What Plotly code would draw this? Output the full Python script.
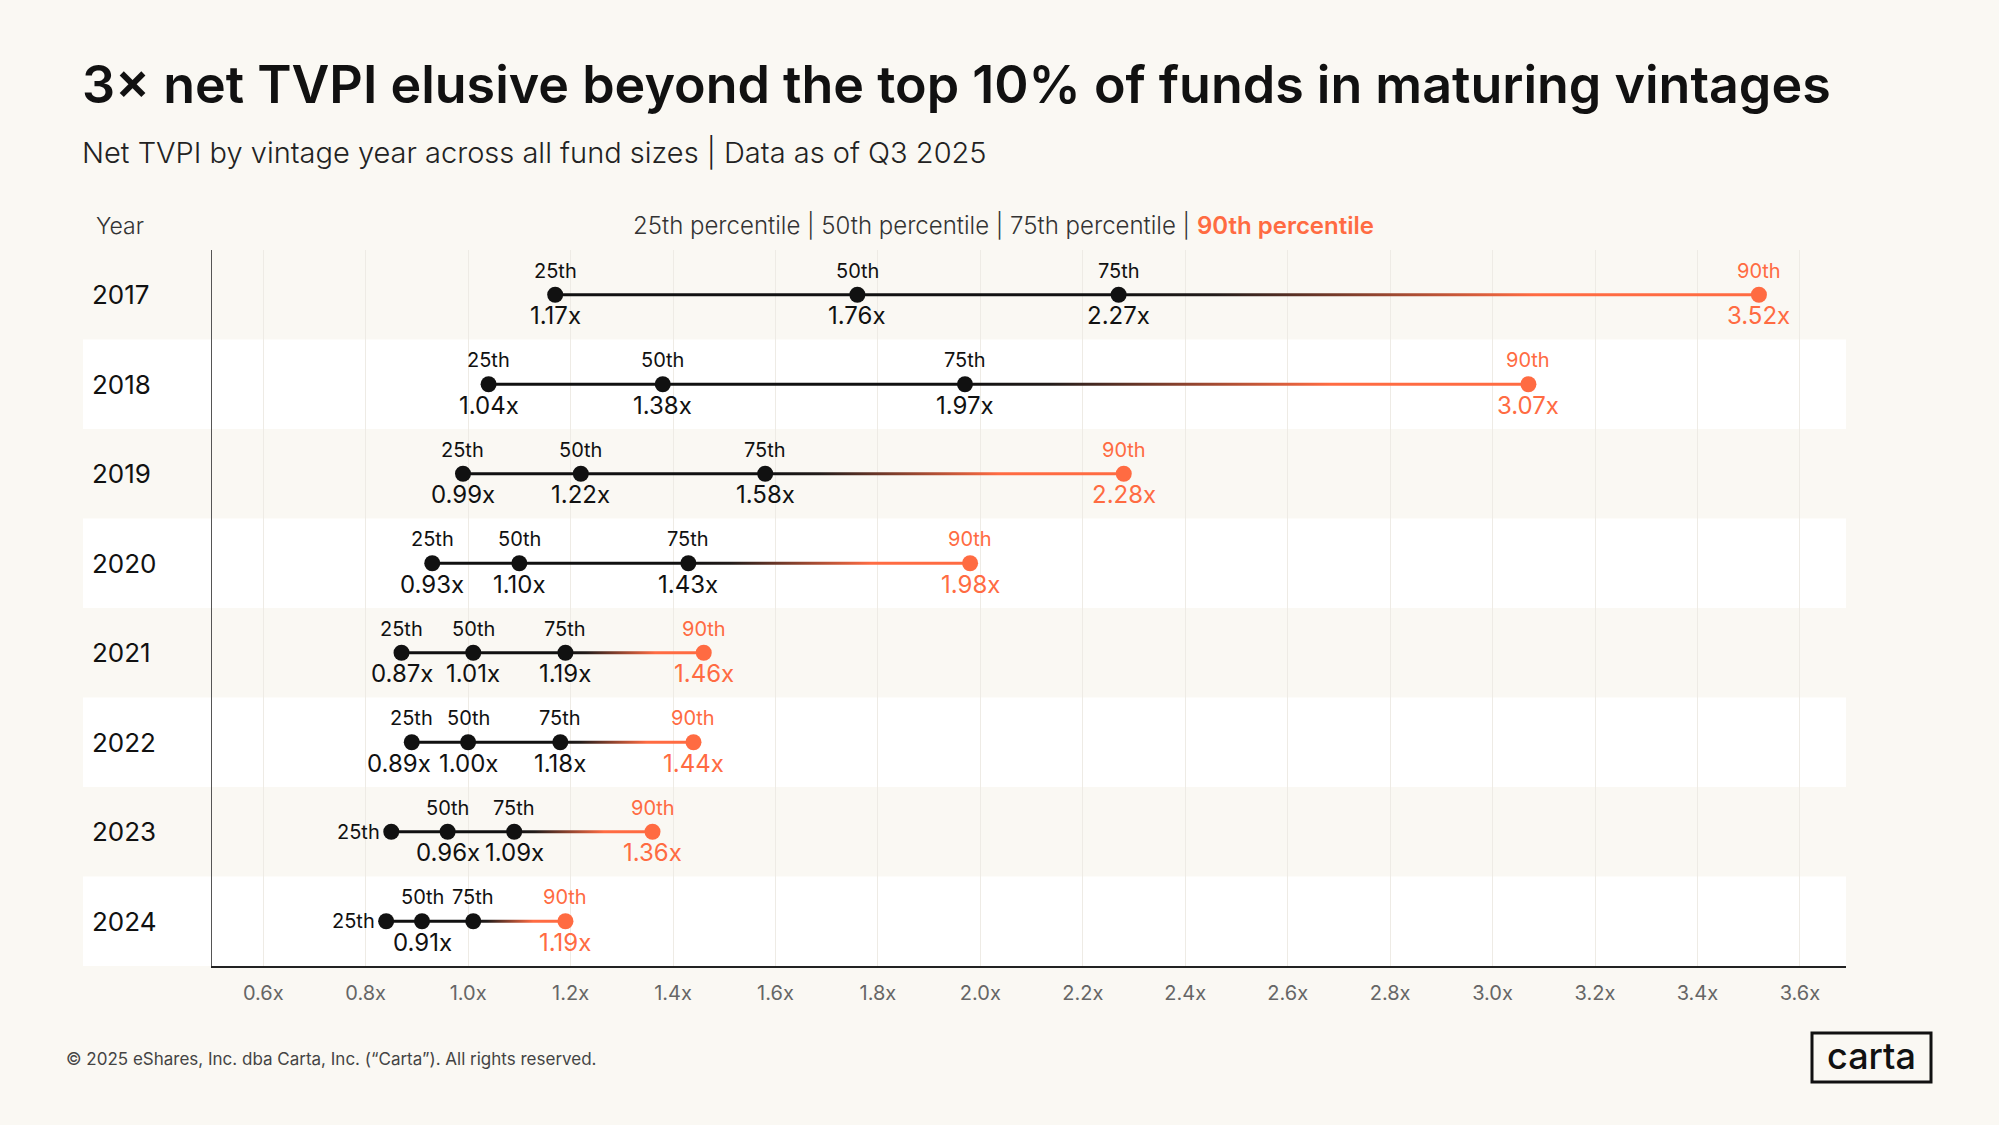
import plotly.graph_objects as go

# Net TVPI percentiles by vintage year
years = [2017, 2018, 2019, 2020, 2021, 2022, 2023, 2024]
p25 = [1.17, 1.04, 0.99, 0.93, 0.87, 0.89, 0.85, 0.84]
p50 = [1.76, 1.38, 1.22, 1.10, 1.01, 1.00, 0.96, 0.91]
p75 = [2.27, 1.97, 1.58, 1.43, 1.19, 1.18, 1.09, 1.01]
p90 = [3.52, 3.07, 2.28, 1.98, 1.46, 1.44, 1.36, 1.19]
pct_names = ["25th", "50th", "75th", "90th"]

tick_vals = [0.6, 0.8, 1.0, 1.2, 1.4, 1.6, 1.8, 2.0, 2.2, 2.4, 2.6, 2.8, 3.0, 3.2, 3.4, 3.6]
tick_labels = ["0.6x", "0.8x", "1.0x", "1.2x", "1.4x", "1.6x", "1.8x", "2.0x",
               "2.2x", "2.4x", "2.6x", "2.8x", "3.0x", "3.2x", "3.4x", "3.6x"]

# crowded points: name goes to the left and value label is dropped
name_left = {(2023, "25th"), (2024, "25th")}
no_value = {(2024, "75th")}
value_nudge = {(2022, "25th"): -13}

BG = "#FAF8F3"
INK = "#111111"
ORANGE = "#FF6B42"
FONT = "Inter"

W, H = 1999, 1125
L, R, T, B = 212, 153, 250, 159
PW, PH = W - L - R, H - T - B


def px(x):
    return (x - L) / PW


def py(y):
    return (H - B - y) / PH


rows = list(range(len(years)))
fig = go.Figure()

# black part of each range (25th -> 75th)
for i in rows:
    fig.add_trace(go.Scatter(x=[p25[i], p75[i]], y=[i, i], mode="lines",
                             line=dict(color=INK, width=3), hoverinfo="skip"))

# 75th -> 90th fades from black to orange
half = 0.017
for i in rows:
    fig.add_trace(go.Scatter(
        x=[p75[i], p90[i], p90[i], p75[i], p75[i]],
        y=[i - half, i - half, i + half, i + half, i - half],
        mode="lines", fill="toself", line=dict(width=0),
        fillgradient=dict(type="horizontal",
                          colorscale=[[0, INK], [0.15, "#221c1a"], [0.65, ORANGE], [1, ORANGE]]),
        hoverinfo="skip"))

series = [p25, p50, p75, p90]
for k, vals in enumerate(series):
    fig.add_trace(go.Scatter(x=vals, y=rows, mode="markers",
                             marker=dict(size=16, color=ORANGE if k == 3 else INK),
                             hoverinfo="skip"))

annotations = []
for i, yr in enumerate(years):
    for k, vals in enumerate(series):
        name = pct_names[k]
        col = ORANGE if k == 3 else INK
        if (yr, name) in name_left:
            annotations.append(dict(x=vals[i], y=i, text=name, showarrow=False,
                                    xanchor="right", yanchor="middle", xshift=-9,
                                    font=dict(family=FONT, size=20, color=col)))
            continue
        annotations.append(dict(x=vals[i], y=i, text=name, showarrow=False,
                                yanchor="middle", yshift=24,
                                font=dict(family=FONT, size=20, color=col)))
        if (yr, name) not in no_value:
            annotations.append(dict(x=vals[i], y=i, text=f"{vals[i]:.2f}x", showarrow=False,
                                    yanchor="middle", yshift=-21,
                                    xshift=value_nudge.get((yr, name), 0),
                                    font=dict(family=FONT, size=24, color=col)))
    annotations.append(dict(x=px(90), y=i, xref="paper", text=str(yr), showarrow=False,
                            xanchor="left", yanchor="middle",
                            font=dict(family=FONT, size=26, color=INK)))

annotations += [
    dict(x=px(80), y=py(85), xref="paper", yref="paper", showarrow=False,
         xanchor="left", yanchor="middle",
         text="3\u00d7 net TVPI elusive beyond the top 10% of funds in maturing vintages",
         font=dict(family=FONT, size=52, color=INK, weight=600)),
    dict(x=px(80), y=py(153), xref="paper", yref="paper", showarrow=False,
         xanchor="left", yanchor="middle",
         text="Net TVPI by vintage year across all fund sizes | Data as of Q3 2025",
         font=dict(family=FONT, size=29, color="#222222", weight=300)),
    dict(x=px(94), y=py(226), xref="paper", yref="paper", showarrow=False,
         xanchor="left", yanchor="middle", text="Year",
         font=dict(family=FONT, size=23, color="#333333", weight=300)),
    dict(x=px(1003), y=py(226), xref="paper", yref="paper", showarrow=False,
         xanchor="center", yanchor="middle",
         text="25th percentile | 50th percentile | 75th percentile | "
              f"<span style='color:{ORANGE};font-weight:600'>90th percentile</span>",
         font=dict(family=FONT, size=24, color="#333333", weight=300)),
    dict(x=px(64), y=py(1059), xref="paper", yref="paper", showarrow=False,
         xanchor="left", yanchor="middle",
         text="\u00a9 2025 eShares, Inc. dba Carta, Inc. (\u201cCarta\u201d). All rights reserved.",
         font=dict(family=FONT, size=17, color="#444444")),
    dict(x=px(1871), y=py(1056), xref="paper", yref="paper", showarrow=False,
         xanchor="center", yanchor="middle", text="carta",
         font=dict(family=FONT, size=36, color=INK, weight=500)),
]

shapes = []
for i in rows:
    if i % 2 == 1:
        shapes.append(dict(type="rect", xref="paper", yref="y", layer="below",
                           x0=px(83), x1=1, y0=i - 0.5, y1=i + 0.5,
                           fillcolor="#FFFFFF", line=dict(width=0)))
shapes.append(dict(type="rect", xref="paper", yref="paper",
                   x0=px(1812), x1=px(1931), y0=py(1082), y1=py(1033),
                   line=dict(color=INK, width=3), fillcolor="rgba(0,0,0,0)"))

fig.update_layout(
    width=W, height=H, autosize=False,
    margin=dict(l=L, r=R, t=T, b=B),
    paper_bgcolor=BG, plot_bgcolor="rgba(0,0,0,0)",
    showlegend=False,
    annotations=annotations, shapes=shapes,
    xaxis=dict(range=[0.5, 3.69], tickvals=tick_vals, ticktext=tick_labels,
               showgrid=True, gridcolor="#EEEBE5", gridwidth=1, zeroline=False,
               showline=True, linecolor="#222222", linewidth=2, ticks="",
               ticklabelstandoff=8,
               tickfont=dict(family=FONT, size=20, color="#666666")),
    yaxis=dict(range=[len(years) - 0.5, -0.5], showticklabels=False, showgrid=False,
               zeroline=False, showline=True, linecolor="#555555", linewidth=1),
)

# drop the default page margin so the figure sits flush in the window
fig.write_html("out.html", config={"displayModeBar": False}, post_script=(
    "document.body.style.margin='0';document.body.style.overflow='hidden';"
    f"document.body.style.background='{BG}';"))
